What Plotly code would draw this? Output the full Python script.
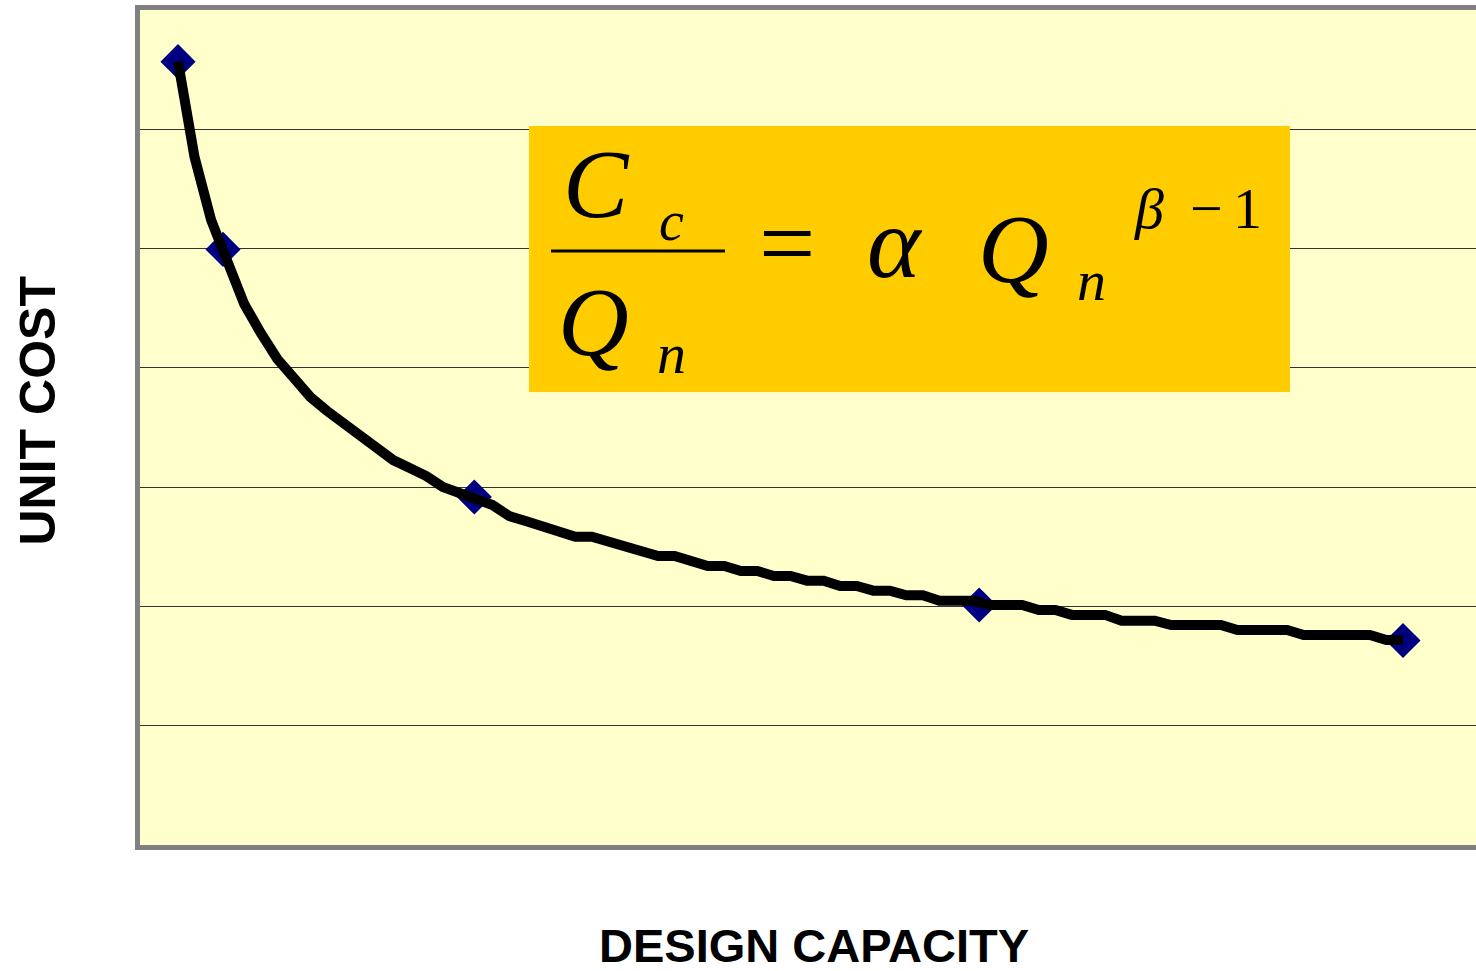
import plotly.graph_objects as go

# ---- data ----
design_capacity = list(range(1, 76))
unit_cost = [6.567, 5.767, 5.239, 4.879, 4.535, 4.293, 4.074, 3.915, 3.755, 3.639,
             3.538, 3.428, 3.320, 3.227, 3.161, 3.093, 3.001, 2.942, 2.900, 2.850,
             2.758, 2.716, 2.666, 2.632, 2.584, 2.584, 2.543, 2.501, 2.465, 2.423,
             2.423, 2.375, 2.339, 2.339, 2.297, 2.297, 2.255, 2.255, 2.216, 2.216,
             2.171, 2.171, 2.132, 2.132, 2.093, 2.093, 2.048, 2.048, 2.048, 2.012,
             2.012, 2.012, 1.970, 1.970, 1.929, 1.929, 1.929, 1.880, 1.880, 1.880,
             1.844, 1.844, 1.844, 1.844, 1.803, 1.803, 1.803, 1.803, 1.760, 1.760,
             1.760, 1.760, 1.760, 1.718, 1.718]
marker_capacity = [1, 3.72, 18.9, 49.4, 75]
marker_cost = [6.567, 4.993, 2.917, 2.012, 1.714]

x_title = "DESIGN CAPACITY"
y_title = "UNIT COST"

W, H = 1476, 971
L, R, T, B = 140, 0, 10, 126


def px(x):
    return (x - L) / (W - L - R)


def py(y):
    return (H - B - y) / (H - T - B)


fig = go.Figure()
fig.add_trace(go.Scatter(x=marker_capacity, y=marker_cost, mode="markers",
                         marker=dict(symbol="diamond", size=27, color="#000080",
                                     line=dict(width=0)),
                         showlegend=False, hoverinfo="skip"))
fig.add_trace(go.Scatter(x=design_capacity, y=unit_cost, mode="lines",
                         line=dict(color="black", width=10),
                         showlegend=False))

serif = "Liberation Serif, Times New Roman, serif"
anns = []


def txt(text, x, y, size):
    anns.append(dict(text=text, x=px(x), y=py(y), xref="paper", yref="paper",
                     xanchor="center", yanchor="middle", showarrow=False,
                     font=dict(family=serif, size=size, color="black")))


txt("<i>C</i>", 596, 184, 98)
txt("<i>c</i>", 671, 221, 56)
txt("=", 787, 244, 100)
txt("<i>α</i>", 895, 242, 102)
txt("<i>Q</i>", 1013, 249, 98)
txt("<i>n</i>", 1091, 280, 58)
txt("<i>β</i>", 1149, 209, 58)
txt("−", 1206, 209, 58)
txt("1", 1247, 209, 58)
txt("<i>Q</i>", 593, 322, 98)
txt("<i>n</i>", 671, 353, 58)

sans = "Liberation Sans, Arial, sans-serif"
anns.append(dict(text="<b>%s</b>" % x_title, x=px(814), y=py(945), xref="paper", yref="paper",
                 xanchor="center", yanchor="middle", showarrow=False,
                 font=dict(family=sans, size=47, color="black")))
anns.append(dict(text="<b>%s</b>" % y_title, x=px(37), y=py(411.5), xref="paper", yref="paper",
                 xanchor="center", yanchor="middle", showarrow=False, textangle=-90,
                 font=dict(family=sans, size=50, color="black")))

shapes = [
    dict(type="rect", xref="paper", yref="paper", x0=px(529), x1=px(1290),
         y0=py(392), y1=py(126), fillcolor="#FFCC00", line=dict(width=0), layer="above"),
    dict(type="line", xref="paper", yref="paper", x0=px(551), x1=px(725),
         y0=py(251), y1=py(251), line=dict(color="black", width=3), layer="above"),
]

fig.update_layout(
    width=W, height=H,
    margin=dict(l=L, r=R, t=T, b=B),
    paper_bgcolor="white", plot_bgcolor="#FFFFCC",
    annotations=anns, shapes=shapes,
    xaxis=dict(range=[-1.2955, 79.41], showgrid=False, zeroline=False,
               showticklabels=False, ticks="", showline=True, mirror=True,
               linecolor="#808080", linewidth=5),
    yaxis=dict(range=[0, 7], dtick=1, showgrid=True, gridcolor="#333333", gridwidth=1,
               zeroline=False, showticklabels=False, ticks="", showline=True,
               mirror=False, linecolor="#808080", linewidth=5),
)

fig.write_html("out.html", config={"displayModeBar": False},
               post_script="document.body.style.margin='0';")
